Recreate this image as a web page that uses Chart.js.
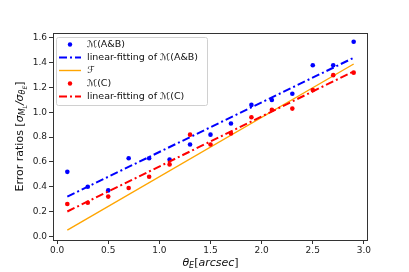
<!DOCTYPE html>
<html>
<head>
<meta charset="utf-8">
<script src="https://cdn.jsdelivr.net/npm/chart.js@4.4.1/dist/chart.umd.min.js"></script>
<style>
  html, body { margin: 0; padding: 0; background: #fff; }
  #wrap { width: 409px; height: 272px; }
</style>
</head>
<body>
<div id="wrap"><canvas id="chart" width="409" height="272"></canvas></div>
<script>
// theta_E values (arcsec)
const thetaE = [0.1, 0.3, 0.5, 0.7, 0.9, 1.1, 1.3, 1.5, 1.7, 1.9, 2.1, 2.3, 2.5, 2.7, 2.9];
// error ratios
const ratiosAB = [0.52, 0.40, 0.37, 0.63, 0.63, 0.62, 0.74, 0.82, 0.91, 1.06, 1.10, 1.15, 1.38, 1.38, 1.57];
const ratiosC = [0.26, 0.27, 0.32, 0.39, 0.48, 0.58, 0.82, 0.74, 0.83, 0.96, 1.02, 1.03, 1.18, 1.30, 1.32];
// line end points
const lineX = [0.1, 2.9];
const fitAB = [0.32, 1.44];
const fitC = [0.20, 1.33];
const curveF = [0.05, 1.39];

const xTicks = [0.0, 0.5, 1.0, 1.5, 2.0, 2.5, 3.0];
const yTicks = [0.0, 0.2, 0.4, 0.6, 0.8, 1.0, 1.2, 1.4, 1.6];

const legendLabels = ['\u2133(A&B)', 'linear-fitting of \u2133(A&B)', '\u2131', '\u2133(C)', 'linear-fitting of \u2133(C)'];

function pts(xs, ys) {
    return xs.map((x, i) => ({ x: x, y: ys[i] }));
}

const FONT = '"DejaVu Sans", sans-serif';
const dashDot = [8, 3, 2, 3];

// draws rich text pieces (sub/superscripts) centred at 0,0
function drawPieces(ctx, pieces) {
    let total = 0;
    pieces.forEach(p => {
        ctx.font = (p.it ? 'italic ' : '') + p.s + 'px ' + FONT;
        p.w = ctx.measureText(p.t).width;
        total += p.w;
    });
    let x = -total / 2;
    ctx.textBaseline = 'alphabetic';
    ctx.textAlign = 'left';
    pieces.forEach(p => {
        ctx.font = (p.it ? 'italic ' : '') + p.s + 'px ' + FONT;
        ctx.fillText(p.t, x, p.dy || 0);
        x += p.w;
    });
}

const decorations = {
    id: 'decorations',
    afterDraw(chart) {
        const ctx = chart.ctx;
        const a = chart.chartArea;
        ctx.save();
        // frame
        ctx.strokeStyle = '#333';
        ctx.lineWidth = 1;
        ctx.strokeRect(a.left + 0.5, a.top + 0.5, a.right - a.left - 1, a.bottom - a.top);

        // axis titles
        ctx.fillStyle = '#111';
        ctx.save();
        ctx.translate((a.left + a.right) / 2, 266);
        drawPieces(ctx, [
            { t: '\u03b8', s: 11, it: true },
            { t: 'E', s: 8, it: true, dy: 2 },
            { t: '[', s: 11 },
            { t: 'arcsec', s: 11, it: true },
            { t: ']', s: 11 }
        ]);
        ctx.restore();

        ctx.save();
        ctx.translate(23, (a.top + a.bottom) / 2);
        ctx.rotate(-Math.PI / 2);
        drawPieces(ctx, [
            { t: 'Error ratios [', s: 11 },
            { t: '\u03c3', s: 11, it: true },
            { t: 'M', s: 8, it: true, dy: 2 },
            { t: 'L', s: 6, it: true, dy: 4 },
            { t: '/', s: 11, it: true },
            { t: '\u03c3', s: 11, it: true },
            { t: '\u03b8', s: 8, it: true, dy: 2 },
            { t: 'E', s: 6, it: true, dy: 4 },
            { t: ']', s: 11 }
        ]);
        ctx.restore();

        // legend
        const bx = a.left + 3, by = a.top + 4, bw = 151, bh = 68;
        ctx.fillStyle = 'rgba(255,255,255,0.85)';
        ctx.strokeStyle = '#d0d0d0';
        ctx.lineWidth = 1;
        ctx.beginPath();
        ctx.roundRect(bx + 0.5, by + 0.5, bw, bh, 2);
        ctx.fill();
        ctx.stroke();

        chart.data.datasets.forEach((ds, i) => {
            const y = by + 7.5 + i * 13;
            const x0 = bx + 3, x1 = bx + 25;
            if (ds.showLine) {
                ctx.strokeStyle = ds.borderColor;
                ctx.lineWidth = ds.borderWidth;
                ctx.setLineDash(ds.borderDash || []);
                ctx.beginPath();
                ctx.moveTo(x0, y);
                ctx.lineTo(x1, y);
                ctx.stroke();
                ctx.setLineDash([]);
            } else {
                ctx.fillStyle = ds.backgroundColor;
                ctx.beginPath();
                ctx.arc((x0 + x1) / 2, y, 2.2, 0, Math.PI * 2);
                ctx.fill();
            }
            ctx.fillStyle = '#111';
            ctx.font = '9.5px ' + FONT;
            ctx.textBaseline = 'middle';
            ctx.textAlign = 'left';
            ctx.fillText(ds.label, bx + 31, y + 0.5);
        });
        ctx.restore();
    }
};

const chart = new Chart(document.getElementById('chart'), {
    type: 'scatter',
    data: {
        datasets: [
            {
                label: legendLabels[0],
                data: pts(thetaE, ratiosAB),
                backgroundColor: '#0000ff',
                borderColor: '#0000ff',
                pointRadius: 2.3,
                pointBorderWidth: 0,
                showLine: false,
                order: 5
            },
            {
                label: legendLabels[1],
                data: pts(lineX, fitAB),
                borderColor: '#0000ff',
                borderWidth: 2,
                borderDash: dashDot,
                pointRadius: 0,
                showLine: true,
                order: 4
            },
            {
                label: legendLabels[2],
                data: pts(lineX, curveF),
                borderColor: '#ffa500',
                borderWidth: 1.4,
                pointRadius: 0,
                showLine: true,
                order: 3
            },
            {
                label: legendLabels[3],
                data: pts(thetaE, ratiosC),
                backgroundColor: '#ff0000',
                borderColor: '#ff0000',
                pointRadius: 2.3,
                pointBorderWidth: 0,
                showLine: false,
                order: 2
            },
            {
                label: legendLabels[4],
                data: pts(lineX, fitC),
                borderColor: '#ff0000',
                borderWidth: 2,
                borderDash: dashDot,
                pointRadius: 0,
                showLine: true,
                order: 1
            }
        ]
    },
    options: {
        responsive: false,
        animation: false,
        layout: { padding: { top: 33, right: 41, left: 0, bottom: 0 } },
        plugins: {
            legend: { display: false },
            tooltip: { enabled: false }
        },
        scales: {
            x: {
                type: 'linear',
                min: -0.04,
                max: 3.04,
                afterFit: s => { s.height = 32; },
                afterBuildTicks: s => { s.ticks = xTicks.map(v => ({ value: v })); },
                grid: { drawOnChartArea: false, drawTicks: true, tickLength: 4, color: '#333' },
                border: { display: false },
                ticks: {
                    padding: 1,
                    color: '#222',
                    font: { family: FONT, size: 9 },
                    maxRotation: 0,
                    callback: v => v.toFixed(1)
                }
            },
            y: {
                type: 'linear',
                min: -0.03,
                max: 1.64,
                afterFit: s => { s.width = 53; },
                afterBuildTicks: s => { s.ticks = yTicks.map(v => ({ value: v })); },
                grid: { drawOnChartArea: false, drawTicks: true, tickLength: 4, color: '#333' },
                border: { display: false },
                ticks: {
                    padding: 2,
                    color: '#222',
                    font: { family: FONT, size: 9 },
                    callback: v => v.toFixed(1)
                }
            }
        }
    },
    plugins: [decorations]
});
</script>
</body>
</html>
